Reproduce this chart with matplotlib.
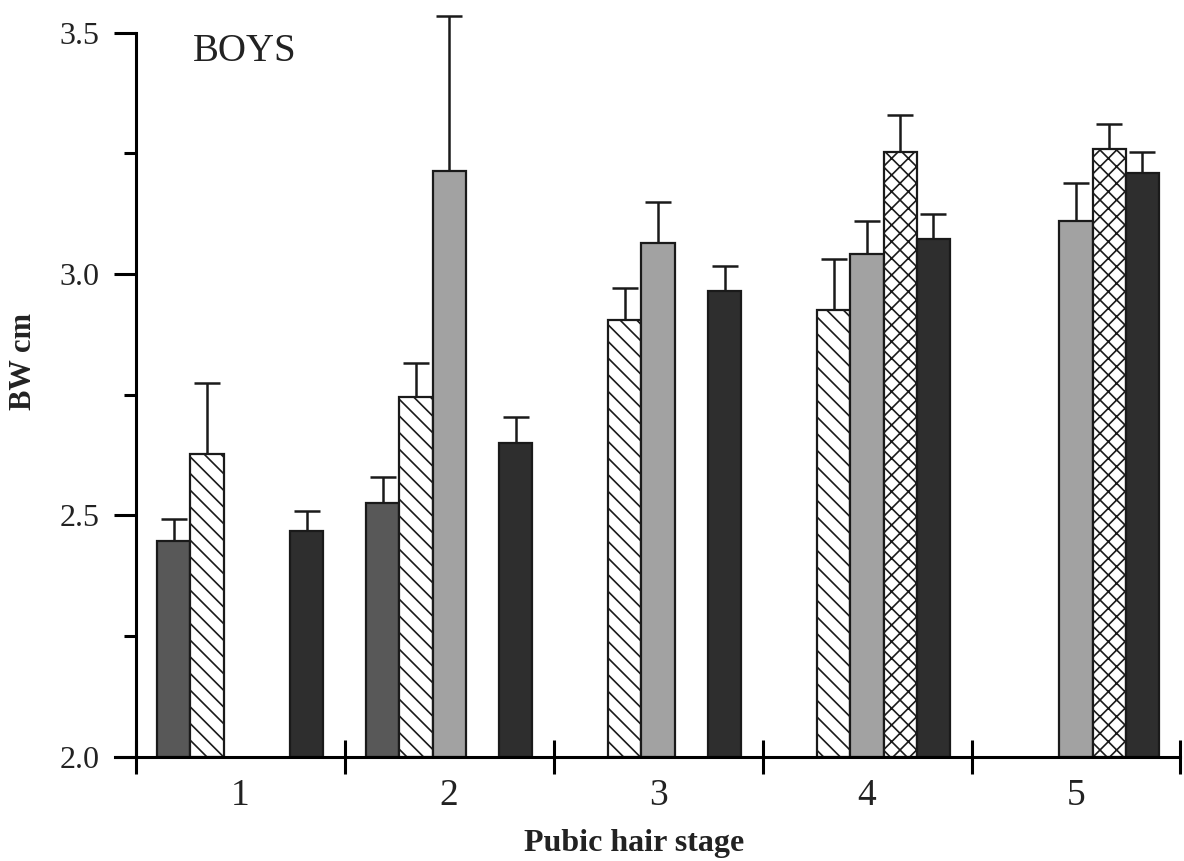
import numpy as np
import matplotlib.pyplot as plt

# Bone width by pubic hair stage (boys); five groups of up to five bars each
stages = ["1", "2", "3", "4", "5"]
nan = np.nan

mean_a = np.array([2.447, 2.526, nan, nan, nan])      # dark grey
mean_b = np.array([2.627, 2.745, 2.905, 2.925, nan])  # diagonal hatch
mean_c = np.array([nan, 3.214, 3.064, 3.042, 3.110])  # light grey
mean_d = np.array([nan, nan, nan, 3.252, 3.260])      # cross hatch
mean_e = np.array([2.468, 2.650, 2.965, 3.073, 3.209])  # black

upper_a = np.array([2.492, 2.579, nan, nan, nan])
upper_b = np.array([2.775, 2.816, 2.971, 3.032, nan])
upper_c = np.array([nan, 3.535, 3.150, 3.111, 3.188])
upper_d = np.array([nan, nan, nan, 3.330, 3.311])
upper_e = np.array([2.510, 2.704, 3.016, 3.124, 3.253])

series = [
    (mean_a, upper_a, dict(color="#585858")),
    (mean_b, upper_b, dict(color="white", hatch="\\\\")),
    (mean_c, upper_c, dict(color="#a2a2a2")),
    (mean_d, upper_d, dict(color="white", hatch="xx")),
    (mean_e, upper_e, dict(color="#2e2e2e")),
]

plt.rcParams["font.family"] = ["Liberation Serif", "DejaVu Serif"]
plt.rcParams["hatch.linewidth"] = 1.2

fig = plt.figure(figsize=(11.84, 8.61), dpi=100)
ax = fig.add_axes([0.097, 0.121, 0.9, 0.841])

x = np.arange(len(stages))
w = 0.159
for k, (m, up, style) in enumerate(series):
    pos = x + (k - 2) * w
    ok = ~np.isnan(m)
    ax.bar(pos[ok], m[ok] - 2.0, bottom=2.0, width=w, edgecolor="#1a1a1a",
           linewidth=1.6, zorder=2, **style)
    err = up[ok] - m[ok]
    ax.errorbar(pos[ok], m[ok], yerr=[np.zeros_like(err), err], fmt="none",
                ecolor="#1a1a1a", elinewidth=1.8, capsize=9.5, capthick=1.8,
                zorder=1, clip_on=False)

ax.set_xlim(-0.6, 4.5)
ax.set_ylim(2.0, 3.5)

for side in ["top", "right"]:
    ax.spines[side].set_visible(False)
ax.spines["left"].set_position(("data", -0.5))
ax.spines["left"].set_linewidth(2.2)
ax.spines["bottom"].set_linewidth(2.2)

ax.set_yticks([2.0, 2.5, 3.0, 3.5])
ax.set_yticklabels(["2.0", "2.5", "3.0", "3.5"])
ax.set_yticks([2.25, 2.75, 3.25], minor=True)
ax.tick_params(axis="y", which="major", length=16, width=2.2, labelsize=23,
               pad=10, labelcolor="#222222")
ax.tick_params(axis="y", which="minor", length=9, width=2.2)

# group separators cross the baseline
ax.set_xticks(np.arange(-0.5, 5.0, 1.0))
ax.set_xticklabels([])
ax.tick_params(axis="x", which="major", direction="inout", length=24, width=2.2)
for xi, lab in zip(x, stages):
    ax.text(xi, -0.03, lab, transform=ax.get_xaxis_transform(), ha="center",
            va="top", fontsize=27, color="#222222")

fig.text(0.207, 0.962, "BOYS", fontsize=28, color="#222222",
         ha="center", va="top")
fig.text(0.536, 0.004, "Pubic hair stage", fontsize=23, fontweight="bold",
         ha="center", va="bottom", color="#222222")
fig.text(0.02, 0.58, "BW cm", fontsize=22, fontweight="bold", rotation=90,
         ha="center", va="center", color="#222222")

fig.savefig("out.png", dpi=100)
